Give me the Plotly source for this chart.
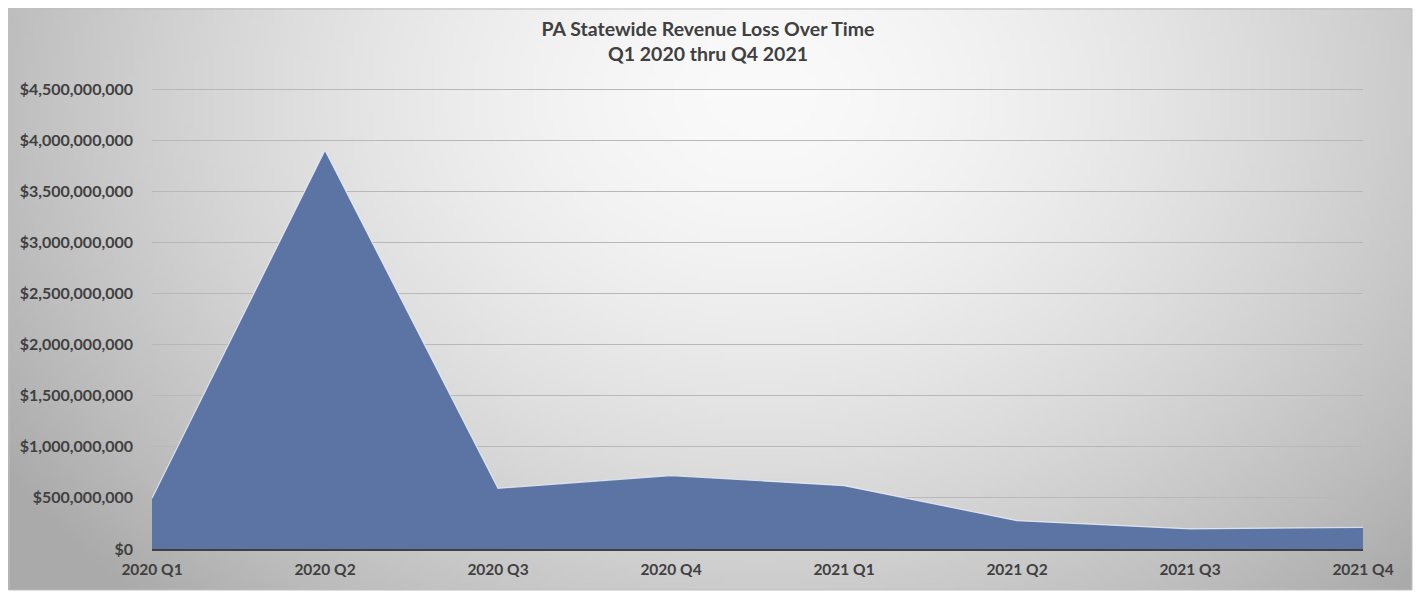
import base64, struct, zlib
import numpy as np
import plotly.graph_objects as go

quarters = ["2020 Q1", "2020 Q2", "2020 Q3", "2020 Q4", "2021 Q1", "2021 Q2", "2021 Q3", "2021 Q4"]
revenue_loss = [496000000, 3900000000, 594000000, 718000000, 620000000, 277000000, 196000000, 212000000]
y_ticks = [0, 500000000, 1000000000, 1500000000, 2000000000, 2500000000, 3000000000, 3500000000, 4000000000, 4500000000]
y_tick_labels = ["$" + format(v, ",") for v in y_ticks]


def gradient_png(w, h):
    xs = np.linspace(0, 1410, w)
    ys = np.linspace(0, 588, h)
    X, Y = np.meshgrid(xs, ys)
    dx = (X - 760) / 720.0
    dy = (Y - 90) / 560.0
    r = np.sqrt(dx ** 2 + dy ** 2)
    g = np.clip(250 - 55 * r ** 1.6, 170, 252).astype(np.uint8)
    raw = b"".join(b"\x00" + np.repeat(row, 3).tobytes() for row in g)

    def chunk(tag, data):
        c = struct.pack(">I", len(data)) + tag + data
        return c + struct.pack(">I", zlib.crc32(tag + data) & 0xFFFFFFFF)

    png = b"\x89PNG\r\n\x1a\n" + chunk(b"IHDR", struct.pack(">IIBBBBB", w, h, 8, 2, 0, 0, 0))
    png += chunk(b"IDAT", zlib.compress(raw, 9)) + chunk(b"IEND", b"")
    return "data:image/png;base64," + base64.b64encode(png).decode()


OFF = 8  # page body margin
W, H = 1422 - OFF, 592 - OFF
L, R, T, B = 152, 1363, 88, 549  # plot area in page pixels
pw, ph = R - L, B - T

def px(x):
    return (x - L) / pw

def py(y):
    return (B - y) / ph

fig = go.Figure()
fig.add_trace(go.Scatter(
    x=quarters, y=revenue_loss, mode="lines", fill="tozeroy",
    line=dict(color="rgba(235,240,250,0.8)", width=1.2),
    fillcolor="#5b74a3", hoverinfo="x+y", showlegend=False,
))

fig.update_layout(
    width=W, height=H,
    margin=dict(l=L - OFF, r=1422 - R, t=T - OFF, b=592 - B),
    paper_bgcolor="white", plot_bgcolor="rgba(0,0,0,0)",
    font=dict(family="Lato, Open Sans, sans-serif", color="#404040"),
    title=dict(
        text="<b>PA Statewide Revenue Loss Over Time<br>Q1 2020 thru Q4 2021</b>",
        x=(708 - OFF) / W, xanchor="center", y=1 - 28 / H, yanchor="top",
        font=dict(size=19.5, color="#404040"),
    ),
    xaxis=dict(
        type="category", range=[0, len(quarters) - 1], showgrid=False,
        showline=True, linecolor="#404040", linewidth=2,
        ticks="", tickfont=dict(size=15.5, color="#404040", weight="bold"),
        ticklabelstandoff=5,
        zeroline=False, fixedrange=True,
    ),
    yaxis=dict(
        range=[0, 4510000000], tickmode="array", tickvals=y_ticks, ticktext=y_tick_labels,
        showgrid=True, gridcolor="#b8b8b8", gridwidth=1,
        tickfont=dict(size=16, color="#404040", weight="bold"),
        ticklabelstandoff=18,
        zeroline=False, showline=False, ticks="", ticklen=0,
    ),
    images=[dict(
        source=gradient_png(282, 118), xref="paper", yref="paper",
        x=px(2), y=py(3), sizex=px(1412) - px(2), sizey=py(3) - py(590),
        xanchor="left", yanchor="top", sizing="stretch", layer="below",
    )],
    shapes=[dict(
        type="rect", xref="paper", yref="paper",
        x0=px(OFF + 1), x1=px(1412), y0=py(590), y1=py(OFF + 1),
        line=dict(color="#bfbfbf", width=1), layer="below",
    )],
)

fig.write_html("out.html")
